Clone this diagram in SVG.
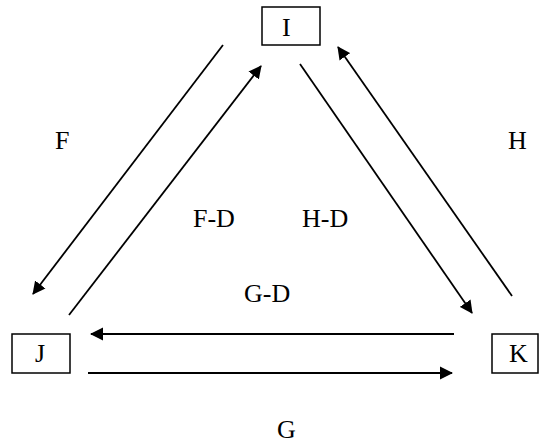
<svg xmlns="http://www.w3.org/2000/svg" width="540" height="446" viewBox="0 0 540 446">
  <style>
    .box { fill: #fff; stroke: #000; stroke-width: 1.5; }
    .lbl { font-family: "Liberation Serif", "Times New Roman", serif; font-size: 26px; fill: #000; }
    .edge { stroke: #000; stroke-width: 1.8; fill: none; marker-end: url(#head); }
  </style>
  <defs>
    <marker id="head" markerUnits="userSpaceOnUse" markerWidth="14" markerHeight="14" refX="12" refY="6.5" orient="auto" viewBox="0 0 14 13">
      <path d="M0,0 L13,6.5 L0,13 z" fill="#000"/>
    </marker>
  </defs>

  <!-- nodes -->
  <g id="node-I">
    <rect class="box" x="262" y="7" width="58" height="38"/>
    <text class="lbl" x="282" y="36">I</text>
  </g>
  <g id="node-J">
    <rect class="box" x="12" y="334" width="58" height="39"/>
    <text class="lbl" x="35" y="362">J</text>
  </g>
  <g id="node-K">
    <rect class="box" x="492" y="334" width="46" height="39"/>
    <text class="lbl" x="509" y="362">K</text>
  </g>

  <!-- connectors -->
  <g id="connectors">
    <line class="edge" x1="223" y1="45" x2="33" y2="294"/>
    <line class="edge" x1="69" y1="315" x2="261" y2="66"/>
    <line class="edge" x1="300" y1="64" x2="472" y2="313"/>
    <line class="edge" x1="512" y1="296" x2="338" y2="47"/>
    <line class="edge" x1="454" y1="334" x2="91" y2="334"/>
    <line class="edge" x1="88" y1="373" x2="452" y2="373"/>
  </g>

  <!-- edge labels -->
  <g id="labels">
    <text class="lbl" x="55" y="149">F</text>
    <text class="lbl" x="508" y="149">H</text>
    <text class="lbl" x="193" y="227">F-D</text>
    <text class="lbl" x="302" y="227">H-D</text>
    <text class="lbl" x="244" y="302">G-D</text>
    <text class="lbl" x="277" y="438">G</text>
  </g>
</svg>
